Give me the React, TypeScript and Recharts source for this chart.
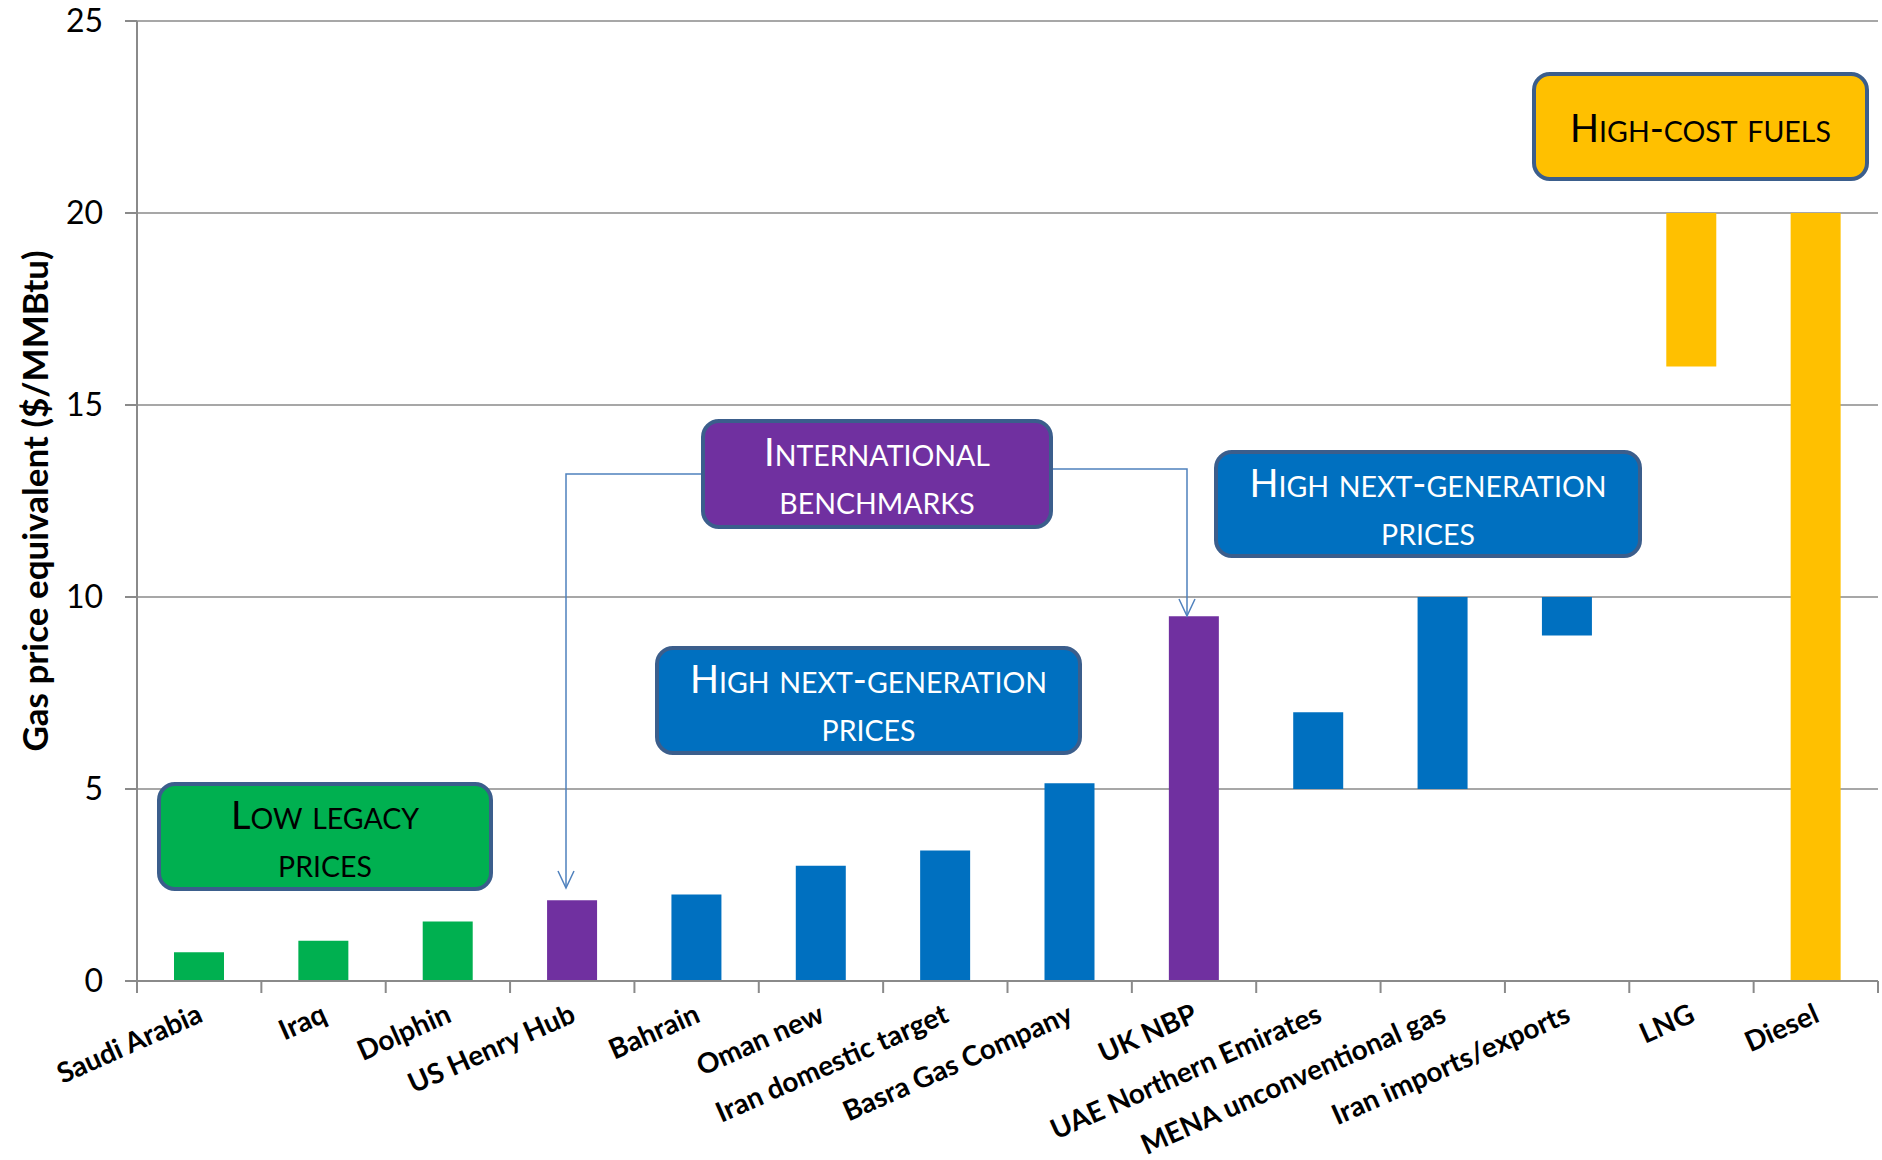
import React from 'react';
import { BarChart, Bar, XAxis, YAxis, CartesianGrid, Cell } from 'recharts';

const categories = [
  'Saudi Arabia', 'Iraq', 'Dolphin', 'US Henry Hub', 'Bahrain', 'Oman new',
  'Iran domestic target', 'Basra Gas Company', 'UK NBP', 'UAE Northern Emirates',
  'MENA unconventional gas', 'Iran imports/exports', 'LNG', 'Diesel',
];
const lowValues = [0, 0, 0, 0, 0, 0, 0, 0, 0, 5, 5, 9, 16, 0];
const highValues = [0.75, 1.05, 1.55, 2.1, 2.25, 3.0, 3.4, 5.15, 9.5, 7, 10, 10, 20, 20];
const groups = [
  'legacy', 'legacy', 'legacy', 'benchmark', 'nextgen', 'nextgen', 'nextgen',
  'nextgen', 'benchmark', 'nextgen', 'nextgen', 'nextgen', 'highcost', 'highcost',
];
const yTicks = [0, 5, 10, 15, 20, 25];
const yAxisTitle = 'Gas price equivalent ($/MMBtu)';

const groupColors: Record<string, string> = {
  legacy: '#00B050',
  benchmark: '#7030A0',
  nextgen: '#0070C0',
  highcost: '#FFC000',
};

const data = categories.map((name, i) => ({
  name,
  range: [lowValues[i], highValues[i]],
  group: groups[i],
}));

const W = 1882;
const H = 1160;
const M_LEFT = 137;
const M_RIGHT = 4;
const M_TOP = 21;
const X_AXIS_H = 179;
const STEP = (W - M_LEFT - M_RIGHT) / categories.length;
const FONT = 'Lato, "Open Sans", sans-serif';
const AXIS_GRAY = '#8A8A8A';

const XTick = (props: any) => {
  const { x, y, payload, index } = props;
  const ax = x + 5;
  const ay = y + 40;
  const left = x - STEP / 2;
  const right = x + STEP / 2;
  const last = index === categories.length - 1;
  return (
    <g>
      <line x1={left} y1={y} x2={left} y2={y + 12} stroke={AXIS_GRAY} strokeWidth={2} />
      {last && <line x1={right} y1={y} x2={right} y2={y + 12} stroke={AXIS_GRAY} strokeWidth={2} />}
      <text
        x={ax}
        y={ay}
        textAnchor="end"
        transform={`rotate(-24 ${ax} ${ay})`}
        fontFamily={FONT}
        fontWeight={700}
        fontSize={28}
        fill="#000"
      >
        {payload.value}
      </text>
    </g>
  );
};

const YTitle = (props: any) => {
  const vb = props.viewBox || { x: 0, y: M_TOP, width: M_LEFT, height: 960 };
  const cx = 34;
  const cy = vb.y + vb.height / 2;
  return (
    <text
      x={cx}
      y={cy}
      textAnchor="middle"
      dominantBaseline="central"
      transform={`rotate(-90 ${cx} ${cy})`}
      fontFamily={FONT}
      fontWeight={700}
      fontSize={35}
      fill="#000"
    >
      {yAxisTitle}
    </text>
  );
};

type BoxDef = {
  lines: string[];
  left: number;
  top: number;
  width: number;
  height: number;
  fill: string;
  color: string;
};

const boxes: BoxDef[] = [
  { lines: ['Low legacy', 'prices'], left: 157, top: 782, width: 336, height: 109, fill: '#00B050', color: '#000' },
  { lines: ['International', 'benchmarks'], left: 701, top: 419, width: 352, height: 110, fill: '#7030A0', color: '#fff' },
  { lines: ['High next-generation', 'prices'], left: 655, top: 646, width: 427, height: 109, fill: '#0070C0', color: '#fff' },
  { lines: ['High next-generation', 'prices'], left: 1214, top: 450, width: 428, height: 108, fill: '#0070C0', color: '#fff' },
  { lines: ['High-cost fuels'], left: 1532, top: 72, width: 337, height: 109, fill: '#FFC000', color: '#000' },
];

const BIG = 38;
const SMALL = 28.5;

// Render a line in small caps: lowercase runs are shown as smaller capitals.
const SmallCaps = ({ text }: { text: string }) => {
  const runs: { s: string; lower: boolean }[] = [];
  for (const ch of text) {
    const lower = ch !== ch.toUpperCase();
    const last = runs[runs.length - 1];
    if (last && last.lower === lower) last.s += ch;
    else runs.push({ s: ch, lower });
  }
  return (
    <>
      {runs.map((r, i) =>
        r.lower ? (
          <span key={i} style={{ fontSize: SMALL, textTransform: 'uppercase' }}>{r.s}</span>
        ) : (
          <span key={i} style={{ fontSize: BIG }}>{r.s}</span>
        ),
      )}
    </>
  );
};

const Box = ({ b }: { b: BoxDef }) => (
  <div
    style={{
      position: 'absolute',
      left: b.left,
      top: b.top,
      width: b.width,
      height: b.height,
      boxSizing: 'border-box',
      background: b.fill,
      border: '4px solid #3B5E8C',
      borderRadius: 18,
      color: b.color,
      fontFamily: FONT,
      fontSize: SMALL,
      textAlign: 'center',
      display: 'flex',
      flexDirection: 'column',
      justifyContent: b.lines.length === 1 ? 'center' : 'flex-start',
      paddingTop: b.lines.length === 1 ? 0 : 2,
      whiteSpace: 'nowrap',
    }}
  >
    {b.lines.map((l, i) => (
      <div key={i} style={{ height: 52, lineHeight: '52px' }}>
        <SmallCaps text={l} />
      </div>
    ))}
  </div>
);

const ARROW = '#4F81BD';

export default function App() {
  return (
    <div style={{ position: 'relative', width: W, height: H, background: '#fff' }}>
      <style>{'body{margin:0;}'}</style>
      <BarChart
        width={W}
        height={H}
        data={data}
        margin={{ top: M_TOP, right: M_RIGHT, bottom: 0, left: 0 }}
      >
        <CartesianGrid vertical={false} stroke={AXIS_GRAY} strokeWidth={1.5} />
        <XAxis
          dataKey="name"
          type="category"
          height={X_AXIS_H}
          axisLine={{ stroke: AXIS_GRAY, strokeWidth: 2 }}
          tickLine={false}
          tickSize={0}
          tickMargin={0}
          interval={0}
          tick={<XTick />}
        />
        <YAxis
          width={M_LEFT}
          domain={[0, 25]}
          ticks={yTicks}
          interval={0}
          tickSize={12}
          tickMargin={22}
          axisLine={{ stroke: AXIS_GRAY, strokeWidth: 2 }}
          tickLine={{ stroke: AXIS_GRAY, strokeWidth: 2 }}
          tick={{ fontFamily: FONT, fontSize: 32, fill: '#000' }}
          label={{ content: <YTitle /> }}
        />
        <Bar dataKey="range" barSize={50} isAnimationActive={false}>
          {data.map((d, i) => (
            <Cell key={i} fill={groupColors[d.group]} />
          ))}
        </Bar>
      </BarChart>
      <svg
        width={W}
        height={H}
        style={{ position: 'absolute', left: 0, top: 0, pointerEvents: 'none' }}
      >
        <polyline points="701,474 566,474 566,887" fill="none" stroke={ARROW} strokeWidth={1.5} />
        <polyline points="558,871 566,888 574,871" fill="none" stroke={ARROW} strokeWidth={1.5} />
        <polyline points="1052,469 1187,469 1187,615" fill="none" stroke={ARROW} strokeWidth={1.5} />
        <polyline points="1179,599 1187,616 1195,599" fill="none" stroke={ARROW} strokeWidth={1.5} />
      </svg>
      {boxes.map((b, i) => (
        <Box key={i} b={b} />
      ))}
    </div>
  );
}
